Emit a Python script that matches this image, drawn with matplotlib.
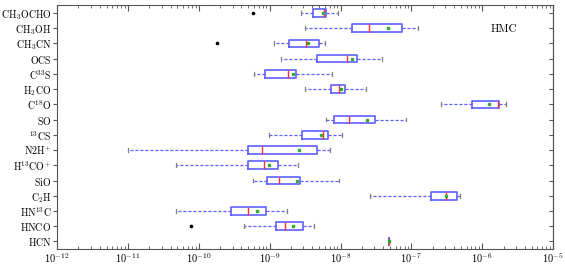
import math
import matplotlib
matplotlib.use("Agg")
import matplotlib.pyplot as plt
from matplotlib.ticker import FuncFormatter, LogLocator, NullFormatter

plt.rcParams['mathtext.fontset'] = 'cm'
plt.rcParams['font.family'] = 'serif'
plt.rcParams['font.serif'] = ['cmr10', 'DejaVu Serif']
plt.rcParams['axes.formatter.use_mathtext'] = True

molecules = [r'$\mathrm{CH_3OCHO}$', r'$\mathrm{CH_3OH}$', r'$\mathrm{CH_3CN}$', r'$\mathrm{OCS}$',
             r'$\mathrm{C^{33}S}$', r'$\mathrm{H_2CO}$', r'$\mathrm{C^{18}O}$', r'$\mathrm{SO}$',
             r'$\mathrm{^{13}CS}$', r'$\mathrm{N2H^{+}}$', r'$\mathrm{H^{13}CO^{+}}$', r'$\mathrm{SiO}$',
             r'$\mathrm{C_2H}$', r'$\mathrm{HN^{13}C}$', r'$\mathrm{HNCO}$', r'$\mathrm{HCN}$']

whislo = [2.8e-9, 3.2e-9, 1.15e-9, 1.43e-9, 6.0e-10, 3.2e-9, 2.6e-7, 6.2e-9,
          9.9e-10, 1.0e-11, 4.8e-11, 5.9e-10, 2.6e-8, 4.8e-11, 4.4e-10, 4.86e-8]
q1 = [4.1e-9, 1.45e-8, 1.9e-9, 4.6e-9, 8.6e-10, 7.4e-9, 7.1e-7, 8.0e-9,
      2.9e-9, 4.9e-10, 5.0e-10, 9.1e-10, 1.87e-7, 2.86e-10, 1.22e-9, 4.86e-8]
med = [5.9e-9, 2.55e-8, 3.3e-9, 1.25e-8, 1.8e-9, 9.4e-9, 1.66e-6, 1.31e-8,
       5.7e-9, 7.9e-10, 8.3e-10, 1.34e-9, 3.1e-7, 5.0e-10, 1.62e-9, 4.86e-8]
q3 = [6.3e-9, 7.4e-8, 4.9e-9, 1.73e-8, 2.37e-9, 1.14e-8, 1.74e-6, 3.1e-8,
      6.7e-9, 4.6e-9, 1.29e-9, 2.66e-9, 4.4e-7, 8.9e-10, 3.0e-9, 4.86e-8]
whishi = [9.3e-9, 1.24e-7, 6.1e-9, 3.9e-8, 7.5e-9, 2.3e-8, 2.16e-6, 8.3e-8,
          1.05e-8, 7.0e-9, 2.5e-9, 9.6e-9, 4.8e-7, 1.77e-9, 4.2e-9, 4.86e-8]
means = [5.7e-9, 4.6e-8, 3.5e-9, 1.45e-8, 2.15e-9, 1.01e-8, 1.26e-6, 2.4e-8,
         5.3e-9, 2.6e-9, 9.8e-10, 2.4e-9, 3.05e-7, 6.6e-10, 2.1e-9, 4.86e-8]
fliers = [[5.8e-10], [], [1.8e-10], [], [], [], [], [],
          [], [], [], [], [], [], [7.8e-11], []]
label_text = 'HMC'

stats = []
for i in range(len(molecules)):
    stats.append(dict(whislo=whislo[i], q1=q1[i], med=med[i], q3=q3[i],
                      whishi=whishi[i], mean=means[i], fliers=fliers[i]))

fig = plt.figure(figsize=(5.65, 2.65), dpi=100)
ax = fig.add_axes([0.101, 0.06, 0.878, 0.92])

positions = list(range(len(molecules), 0, -1))
ax.bxp(stats, positions=positions, vert=False, widths=0.5, showmeans=True,
       boxprops=dict(color='#6060ff', linewidth=1.2),
       whiskerprops=dict(color='#6060ff', linestyle='--', linewidth=0.9, dashes=(2.5, 1.5)),
       capprops=dict(color='#808080', linewidth=0.9),
       medianprops=dict(color='#ff3030', linewidth=1.0),
       meanprops=dict(marker='s', markerfacecolor='#33aa33', markeredgecolor='#33aa33', markersize=1.6),
       flierprops=dict(marker='o', markerfacecolor='black', markeredgecolor='black', markersize=1.6))

ax.set_xscale('log')
ax.set_xlim(1e-12, 1e-5)
ax.set_ylim(0.5, len(molecules) + 0.5)
ax.set_yticks(positions)
ax.set_yticklabels(molecules, fontsize=7.2)

ax.xaxis.set_major_locator(LogLocator(base=10, numticks=20))
ax.xaxis.set_minor_locator(LogLocator(base=10, subs=range(2, 10), numticks=100))
ax.xaxis.set_minor_formatter(NullFormatter())
ax.xaxis.set_major_formatter(FuncFormatter(lambda v, p: r'$10^{%d}$' % round(math.log10(v))))
ax.tick_params(axis='x', which='both', direction='in', top=True, labelsize=7.5, pad=1.5, color='#555555')
ax.tick_params(axis='x', which='major', length=4)
ax.tick_params(axis='x', which='minor', length=2)
ax.tick_params(axis='y', which='both', direction='out', left=True, right=False, length=3, pad=1, color='#555555')
ax2 = ax.secondary_yaxis('right')
ax2.set_yticks(positions)
ax2.set_yticklabels([])
ax2.tick_params(direction='in', length=3, color='#555555')
for sp in list(ax.spines.values()) + list(ax2.spines.values()):
    sp.set_color('#555555')

ax.text(0.9, 0.9, label_text, transform=ax.transAxes, ha='center', va='center', fontsize=8,
        family='serif')

fig.savefig('out.png', dpi=100)
